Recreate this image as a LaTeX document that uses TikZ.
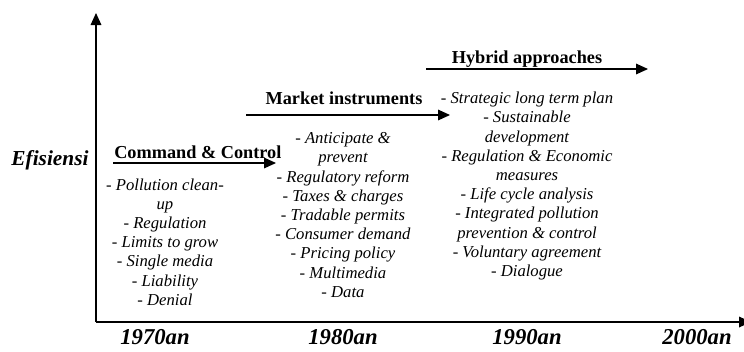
\documentclass[tikz,border=0pt]{standalone}
\usepackage{fontspec}
\setmainfont{Liberation Serif}
\usetikzlibrary{arrows.meta}
\begin{document}
\begin{tikzpicture}[x=0.75pt,y=-0.75pt,
  axis/.style={line width=0.9pt,-{Triangle[length=9pt,width=8pt]}},
  era/.style={line width=0.9pt,-{Triangle[length=9pt,width=8pt]}},
  head/.style={font=\fontsize{13.7}{16}\selectfont\bfseries,inner sep=0pt},
  items/.style={font=\fontsize{12.5}{14.4}\selectfont\itshape,align=center,inner sep=0pt},
  year/.style={font=\fontsize{17}{20}\selectfont\bfseries\itshape,inner sep=0pt}]
\useasboundingbox (0,0) rectangle (744,351);
% axes
\coordinate (o) at (96,322);
\coordinate (ytop) at (96,13);
\coordinate (xend) at (751,322);
\draw[axis] (o) -- (ytop);
\draw[axis] (o) -- (xend);
\node[year,font=\fontsize{16}{19}\selectfont\bfseries\itshape] (eff) at (50,160) {Efisiensi};
% time labels
\node[year] (y70) at (155,337) {1970an};
\node[year] (y80) at (343,337) {1980an};
\node[year] (y90) at (527,337) {1990an};
\node[year] (y00) at (697,337) {2000an};
% command & control
\coordinate (c1) at (113,163);
\coordinate (c2) at (276,163);
\draw[era] (c1) -- (c2);
\node[head,anchor=base west] (cc) at (114,158) {Command \& Control};
\node[items] (ccl) at (165,242) {- Pollution clean-\\up\\- Regulation\\- Limits to grow\\- Single media\\- Liability\\- Denial};
% market instruments
\coordinate (m1) at (246,115);
\coordinate (m2) at (450,115);
\draw[era] (m1) -- (m2);
\node[head,anchor=base] (mi) at (344,104) {Market instruments};
\node[items] (mil) at (343,215) {- Anticipate \&\\prevent\\- Regulatory reform\\- Taxes \& charges\\- Tradable permits\\- Consumer demand\\- Pricing policy\\- Multimedia\\- Data};
% hybrid approaches
\coordinate (h1) at (426,69);
\coordinate (h2) at (648,69);
\draw[era] (h1) -- (h2);
\node[head,anchor=base] (ha) at (527,63) {Hybrid approaches};
\node[items] (hal) at (527,186) {- Strategic long term plan\\- Sustainable\\development\\- Regulation \& Economic\\measures\\- Life cycle analysis\\- Integrated pollution\\prevention \& control\\- Voluntary agreement\\- Dialogue};
\end{tikzpicture}
\end{document}
